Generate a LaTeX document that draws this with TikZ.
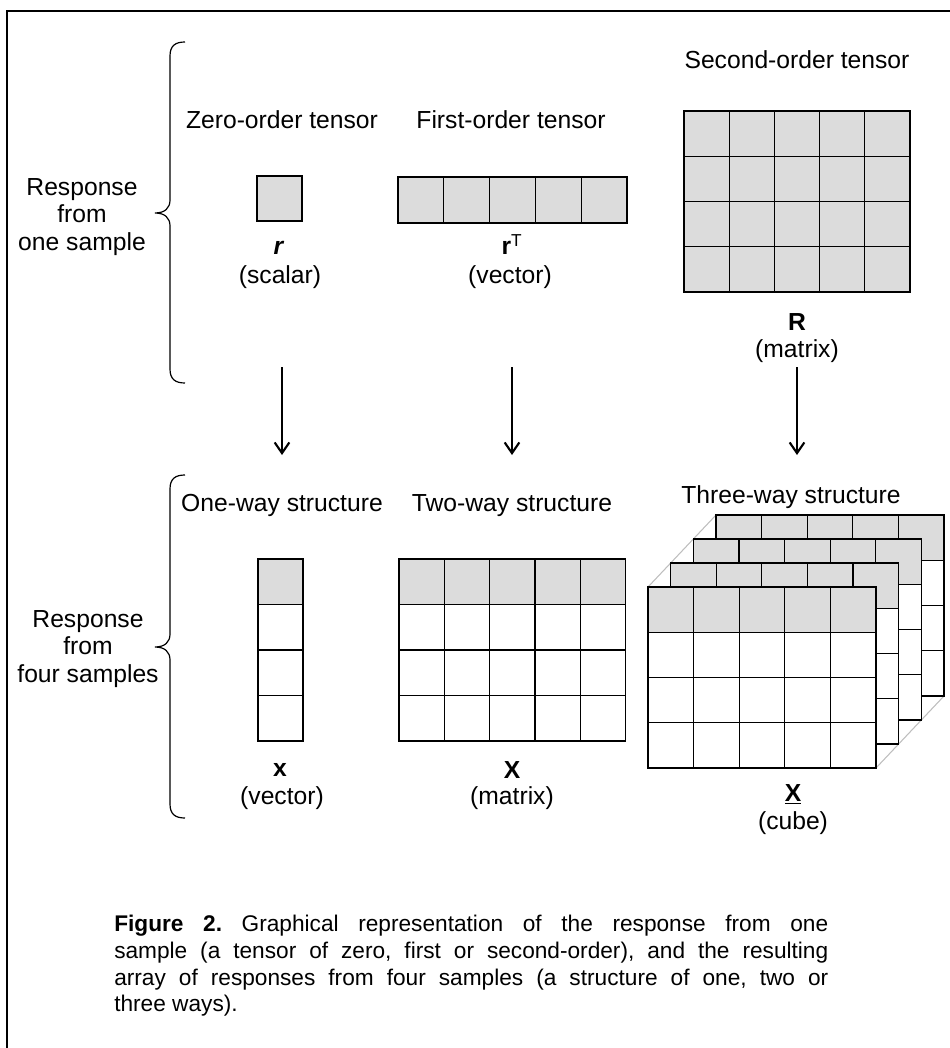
\documentclass[tikz,border=0pt]{standalone}
\usepackage{fontspec}
\setmainfont{Liberation Sans}
\usetikzlibrary{arrows.meta}
\definecolor{cellgray}{RGB}{220,220,220}
\definecolor{edgegray}{RGB}{190,190,190}
\newcommand{\mygrid}[7]{%
  \fill[white] (#1,#2) rectangle ++({#3*#5},{#4*#6});
  \ifnum#7>0 \fill[cellgray] (#1,#2) rectangle ++({#3*#5},{#7*#6}); \fi
  \foreach \c in {0,...,#3} \draw[gridline] ({#1+\c*#5},#2) -- ++(0,{#4*#6});
  \foreach \r in {0,...,#4} \draw[gridline] (#1,{#2+\r*#6}) -- ++({#3*#5},0);
}
\begin{document}
\begin{tikzpicture}[x=0.75pt,y=-0.75pt,
  lbl/.style={font=\fontsize{18.5}{20.5}\selectfont, inner sep=0pt, anchor=base},
  side/.style={font=\fontsize{18.5}{20.5}\selectfont, inner sep=0pt, align=center},
  gridline/.style={line width=0.9pt, line cap=rect},
  bracepath/.style={line width=0.9pt},
  arr/.style={line width=1.6pt, -{Straight Barb[length=8pt,width=11pt,line width=1.6pt]}}]
\useasboundingbox (0,0) rectangle (949,1048);
% frame
\draw[line width=1.6pt] (7,1052) -- (7,11) -- (953,11);

% braces
\draw[bracepath] (185,42) .. controls (175,42) and (170,46) .. (170,56) -- (170,200)
  .. controls (170,208) and (165,213) .. (155,213)
  .. controls (165,213) and (170,218) .. (170,226) -- (170,369)
  .. controls (170,379) and (175,383) .. (185,383);
\draw[bracepath] (185,475) .. controls (175,475) and (170,479) .. (170,489) -- (170,634)
  .. controls (170,642) and (165,647) .. (155,647)
  .. controls (165,647) and (170,652) .. (170,660) -- (170,804)
  .. controls (170,814) and (175,818) .. (185,818);

\node[side] (resp1) at (82,217) {Response\\from\\one sample};
\node[side] (resp4) at (88,649) {Response\\from\\four samples};

% top row
\node[lbl] (t2) at (797,69) {Second-order tensor};
\node[lbl] (t0) at (282,129) {Zero-order tensor};
\node[lbl] (t1) at (511,129) {First-order tensor};

\mygrid{257}{176}{1}{1}{45}{45}{1}
\mygrid{398}{177}{5}{1}{45.8}{46}{1}
\mygrid{684}{111}{5}{4}{45.2}{45.25}{4}

\node[lbl] (s0) at (279,255) {\textbf{\textit{r}}};
\node[lbl] (s0b) at (280,284) {(scalar)};
\node[lbl] (v1) at (512,255) {\textbf{r}\textsuperscript{T}};
\node[lbl] (v1b) at (510,284) {(vector)};
\node[lbl] (m2) at (797,330) {\textbf{R}};
\node[lbl] (m2b) at (797,357) {(matrix)};

% arrows
\coordinate (a0s) at (282,367); \coordinate (a0e) at (282,455);
\coordinate (a1s) at (512,367); \coordinate (a1e) at (512,455);
\coordinate (a2s) at (797,367); \coordinate (a2e) at (797,455);
\draw[arr] (a0s) -- (a0e);
\draw[arr] (a1s) -- (a1e);
\draw[arr] (a2s) -- (a2e);

% bottom row
\node[lbl] (w1) at (282,511) {One-way structure};
\node[lbl] (w2) at (512,511) {Two-way structure};
\node[lbl] (w3) at (791,503) {Three-way structure};

\mygrid{258}{559}{1}{4}{45}{45.5}{1}
\mygrid{399}{559}{5}{4}{45.3}{45.5}{1}

% cube
\draw[edgegray, line width=0.8pt] (648,587) -- (716,515);
\draw[edgegray, line width=0.8pt] (876,587) -- (944,515);
\draw[edgegray, line width=0.8pt] (876,768) -- (944,696);
\foreach \k in {3,2,1,0} {
  \pgfmathsetmacro{\sx}{648+22.667*\k}
  \pgfmathsetmacro{\sy}{587-24*\k}
  \mygrid{\sx}{\sy}{5}{4}{45.6}{45.25}{1}
}

\node[lbl] (xv) at (280,776) {\textbf{x}};
\node[lbl] (xvb) at (282,804) {(vector)};
\node[lbl] (xm) at (512,778) {\textbf{X}};
\node[lbl] (xmb) at (512,804) {(matrix)};
\node[lbl] (xc) at (793,801) {\underline{\textbf{X}}};
\node[lbl] (xcb) at (793,829) {(cube)};

% caption
\node[anchor=north west, inner sep=0pt, text width=535.5pt, align=justify,
  font=\fontsize{17}{20}\selectfont] (cap) at (114,915)
  {\frenchspacing\hyphenpenalty=10000\exhyphenpenalty=10000\textbf{Figure 2.} Graphical representation of the response from one\linebreak sample (a tensor of zero, first or second-order), and the resulting\linebreak array of responses from four samples (a structure of one, two or\linebreak three ways).};
\end{tikzpicture}
\end{document}
